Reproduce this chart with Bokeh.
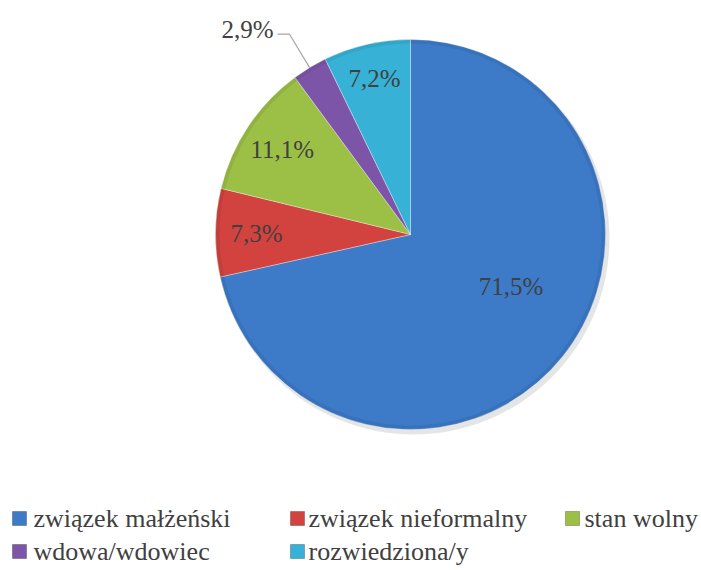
import math
from bokeh.plotting import figure
from bokeh.models import Range1d, ColumnDataSource
from bokeh.core.properties import value
from bokeh.embed import file_html
from bokeh.resources import INLINE

# ---- data ----
categories = ["związek małżeński", "związek nieformalny", "stan wolny",
              "wdowa/wdowiec", "rozwiedziona/y"]
shares = [71.5, 7.3, 11.1, 2.9, 7.2]
labels = ["71,5%", "7,3%", "11,1%", "2,9%", "7,2%"]
colors = ["#3D7BC9", "#D2423E", "#9CC046", "#7C55A8", "#37B2D6"]

# ---- layout ----
W, H = 701, 570
def X(px):
    return px
def Y(py):
    return H - py

cx, cy, R = X(410), Y(234), 195
label_frac = [0.58, 0.79, 0.79, None, 0.82]
label_angle_shift = [-11.5, 0, 0, 0, 0]  # degrees clockwise from mid-angle
FONT = value("Liberation Serif")
TXT = "#404040"

p = figure(width=W, height=H, x_range=Range1d(0, W), y_range=Range1d(0, H),
           output_backend="svg", toolbar_location=None, min_border=0,
           x_axis_type=None, y_axis_type=None)
p.grid.visible = False
p.outline_line_color = None
p.background_fill_color = "white"

total = sum(shares)
starts, ends, mids = [], [], []
cum = 0.0
for s in shares:
    a0 = math.pi / 2 - 2 * math.pi * cum / total
    cum += s
    a1 = math.pi / 2 - 2 * math.pi * cum / total
    starts.append(a0)
    ends.append(a1)
    mids.append((a0 + a1) / 2)

# soft shadow
p.circle(x=[cx + 3], y=[cy - 4], radius=R + 1, fill_color="#000000",
         fill_alpha=0.10, line_color=None)

src = ColumnDataSource(dict(start=starts, end=ends, color=colors,
                            x=[cx] * 5, y=[cy] * 5))
p.wedge(x="x", y="y", radius=R, start_angle="start", end_angle="end",
        direction="clock", fill_color="color", line_color="#FFFFFF",
        line_alpha=0.35, line_width=1, source=src)
# subtle bevel rim
p.annular_wedge(x="x", y="y", inner_radius=R - 4, outer_radius=R,
                start_angle="start", end_angle="end", direction="clock",
                fill_color="#000000", fill_alpha=0.07, line_color=None,
                source=src)

# data labels
for i, lab in enumerate(labels):
    m = mids[i] - math.radians(label_angle_shift[i])
    if label_frac[i] is not None:
        lx = cx + R * label_frac[i] * math.cos(m)
        ly = cy + R * label_frac[i] * math.sin(m)
        p.text(x=[lx], y=[ly], text=[lab], text_font=FONT,
               text_font_size="25px", text_color=TXT,
               text_align="center", text_baseline="middle")
    else:
        ex, ey = cx + R * math.cos(m), cy + R * math.sin(m)
        bx, by = cx + 1.2 * R * math.cos(m), cy + 1.2 * R * math.sin(m)
        p.line(x=[ex, bx, bx - 12], y=[ey, by, by], line_color="#A6A6A6",
               line_width=1.2)
        p.text(x=[bx - 16], y=[by + 5], text=[lab], text_font=FONT,
               text_font_size="25px", text_color=TXT,
               text_align="right", text_baseline="middle")

# legend
leg_x = [X(12), X(290), X(565), X(12), X(290)]
leg_y = [Y(518), Y(518), Y(518), Y(551), Y(551)]
gap = [21, 18, 19, 21, 18]
for i, cat in enumerate(categories):
    p.rect(x=[leg_x[i] + 7], y=[leg_y[i]], width=14, height=14,
           fill_color=colors[i], line_color="#00000040", line_width=1)
    p.text(x=[leg_x[i] + gap[i]], y=[leg_y[i]], text=[cat], text_font=FONT,
           text_font_size="26px", text_color=TXT, text_align="left",
           text_baseline="middle")

open("out.html", "w").write(file_html(p, INLINE))
